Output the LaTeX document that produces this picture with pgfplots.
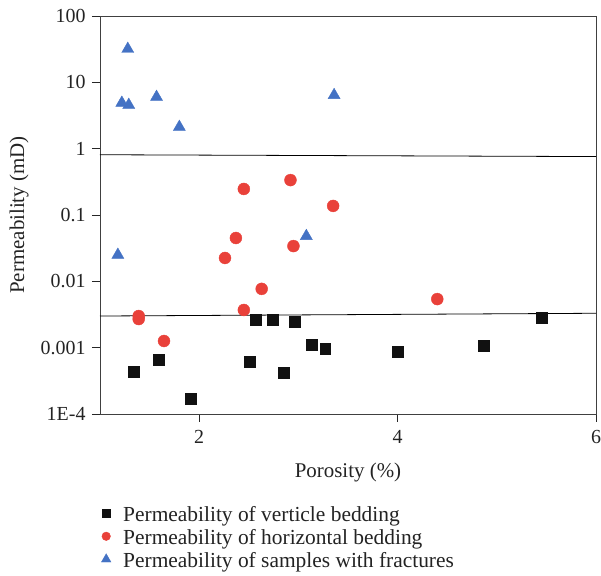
\documentclass[border=0pt]{standalone}
\usepackage{pgfplots}
\pgfplotsset{compat=1.18}
\usepackage{fontspec}
\setmainfont{Liberation Serif}
\definecolor{tri}{RGB}{68,114,196}
\definecolor{dot}{RGB}{233,65,58}
\definecolor{sq}{RGB}{17,17,17}
\definecolor{txt}{RGB}{35,35,35}
\begin{document}
\begin{tikzpicture}
\begin{axis}[
  scale only axis, width=496bp, height=398bp,
  xmin=1, xmax=6, ymin=1e-4, ymax=100, ymode=log,
  xtick={2,4,6}, ytick={1e-4,1e-3,1e-2,1e-1,1,10,100},
  yticklabels={1E-4,0.001,0.01,0.1,1,10,100},
  yminorticks=false,
  /pgf/number format/assume math mode=true,
  tick align=outside, xtick pos=bottom, ytick pos=left,
  major tick length=8bp,
  tick style={black!85, line width=0.8pt},
  axis line style={black!75, line width=0.8pt},
  ticklabel style={font=\fontsize{20}{22}\selectfont, text=txt},
  xticklabel style={inner xsep=0pt, yshift=-5bp},
  yticklabel style={xshift=-3bp},
  label style={font=\fontsize{21}{24}\selectfont, text=txt},
  xlabel={Porosity (\%)}, ylabel={Permeability (mD)},
  xlabel style={at={(axis description cs:0.5,-0.148)}, anchor=center},
  ylabel style={at={(axis description cs:-0.163,0.5)}, anchor=center},
  legend style={at={(axis description cs:0,-0.2326)}, anchor=north west, draw=none,
    inner sep=0pt, row sep=0bp, column sep=11bp, font=\fontsize{21.5}{23}\selectfont, text=txt,
    nodes={inner sep=0pt, text height=15bp, text depth=8bp}},
  legend cell align=left,
  legend image code/.code={\path[draw=none,fill=none] (-6bp,-3bp) rectangle (6bp,10bp); \draw[#1] plot coordinates {(0bp,5bp)};},
  clip=false,
]
\addplot[only marks, mark=square*, mark size=5.5, color=sq,
  legend image post style={mark size=4, mark options={fill=sq, draw=sq}}] coordinates {
(1.34,0.00043) (1.59,0.00065) (1.91,0.000168) (2.51,0.00061) (2.57,0.0026) (2.74,0.0026)
(2.85,0.000415) (2.96,0.00244) (3.13,0.0011) (3.27,0.00095) (4.00,0.00086) (4.87,0.00106) (5.45,0.0028)};
\addlegendentry{Permeability of verticle bedding}
\addplot[only marks, mark=*, mark size=6, color=dot,
  legend image post style={mark size=4.3, mark options={fill=dot, draw=dot}}] coordinates {
(2.45,0.247) (2.92,0.336) (3.35,0.137) (2.37,0.045) (2.26,0.0225) (2.95,0.034) (2.63,0.0077)
(2.45,0.0037) (1.39,0.0030) (1.39,0.0027) (1.645,0.00126) (4.40,0.0054)};
\addlegendentry{Permeability of horizontal bedding}
\addplot[only marks, mark=triangle*, mark size=7, color=tri,
  legend image post style={mark size=5.5, mark options={fill=tri, draw=tri}}] coordinates {
(1.28,31.8) (1.22,4.9) (1.29,4.55) (1.57,6.0) (1.80,2.12) (3.36,6.4) (3.08,0.048) (1.18,0.025)};
\addlegendentry{Permeability of samples with fractures}
\addplot[black, line width=0.8pt, forget plot] coordinates {(1,0.81) (6,0.76)};
\addplot[black, line width=0.8pt, forget plot] coordinates {(1,0.0030) (6,0.0033)};
\end{axis}
\path ([xshift=-100bp,yshift=-160bp]current axis.south west) rectangle ([xshift=5bp,yshift=16bp]current axis.north east);
\end{tikzpicture}
\end{document}
